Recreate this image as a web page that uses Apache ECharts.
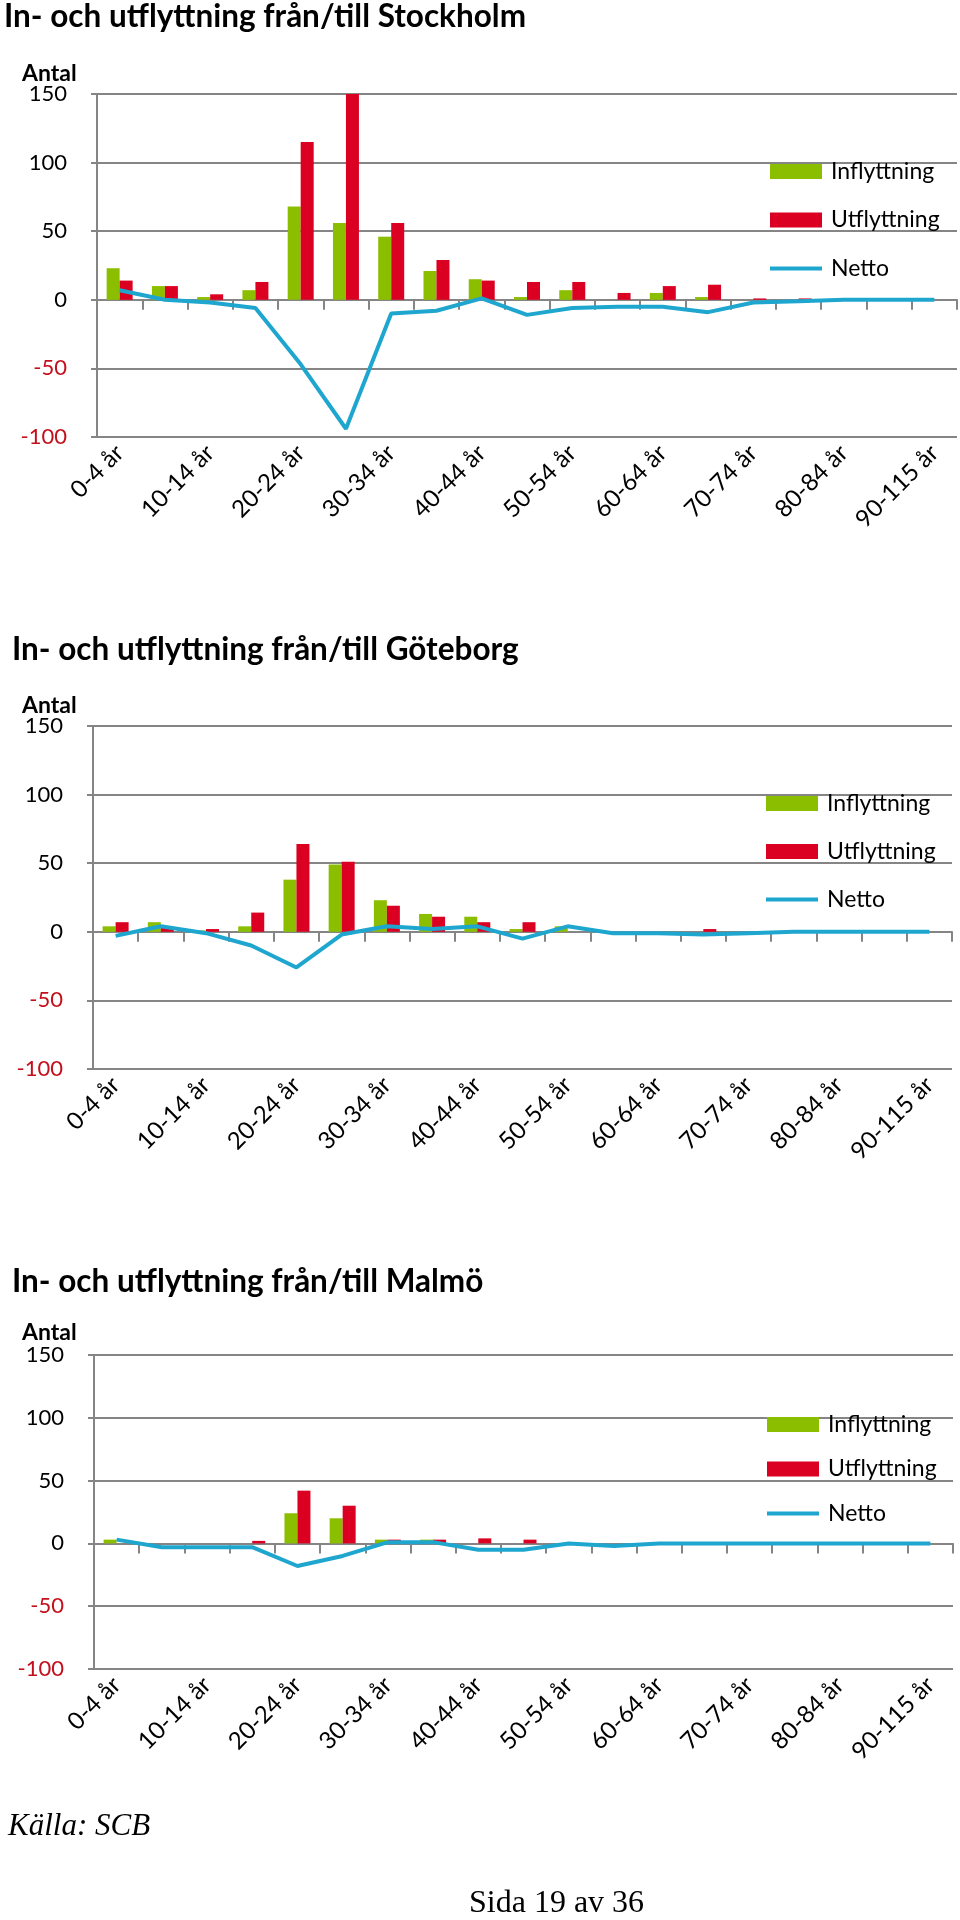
<!DOCTYPE html>
<html>
<head>
<meta charset="utf-8">
<script src="https://cdn.jsdelivr.net/npm/echarts@6/dist/echarts.min.js"></script>
<style>
  html, body { margin: 0; padding: 0; background: #ffffff; }
  #chart { width: 960px; height: 1920px; }
</style>
</head>
<body>
<div id="chart"></div>
<script>
// ---------- DATA ----------
const categories = ['0-4 år','5-9 år','10-14 år','15-19 år','20-24 år','25-29 år','30-34 år','35-39 år','40-44 år','45-49 år','50-54 år','55-59 år','60-64 år','65-69 år','70-74 år','75-79 år','80-84 år','85-89 år','90-115 år'];
const seriesNames = ['Inflyttning', 'Utflyttning', 'Netto'];
const yTicks = [-100, -50, 0, 50, 100, 150];

const titles = ['In- och utflyttning från/till Stockholm', 'In- och utflyttning från/till Göteborg', 'In- och utflyttning från/till Malmö'];
const yAxisTitle = 'Antal';

const stockholmIn    = [23, 10, 2, 7, 68, 56, 46, 21, 15, 2, 7, 0, 5, 2, 0, 0, 0, 0, 0];
const stockholmUt    = [14, 10, 4, 13, 115, 150, 56, 29, 14, 13, 13, 5, 10, 11, 1, 1, 0, 0, 0];
const stockholmNetto = [7, 0, -2, -6, -47, -94, -10, -8, 1, -11, -6, -5, -5, -9, -2, -1, 0, 0, 0];

const goteborgIn     = [4, 7, 1, 4, 38, 49, 23, 13, 11, 2, 4, 0, 0, 0, 0, 0, 0, 0, 0];
const goteborgUt     = [7, 3, 2, 14, 64, 51, 19, 11, 7, 7, 0, 0, 0, 2, 0, 0, 0, 0, 0];
const goteborgNetto  = [-3, 4, -1, -10, -26, -2, 4, 2, 4, -5, 4, -1, -1, -2, -1, 0, 0, 0, 0];

const malmoIn        = [3, 0, 0, 0, 24, 20, 3, 3, 0, 0, 0, 0, 0, 0, 0, 0, 0, 0, 0];
const malmoUt        = [0, 0, 0, 2, 42, 30, 3, 3, 4, 3, 0, 0, 0, 0, 0, 0, 0, 0, 0];
const malmoNetto     = [3, -3, -3, -3, -18, -10, 1, 1, -5, -5, 0, -2, 0, 0, 0, 0, 0, 0, 0];

const sourceText = 'Källa: SCB';
const pageText = 'Sida 19 av 36';

// ---------- LAYOUT / STYLE ----------
const FONT = 'Lato, "Open Sans", sans-serif';
const SERIF = '"Liberation Serif", "DejaVu Serif", serif';
const GREEN = '#8CBE00';
const RED = '#DB0022';
const BLUE = '#1EA6CF';
const GRAY = '#858585';
const NEG = '#C4101C';

const panels = [
  { title: titles[0], data: [stockholmIn, stockholmUt, stockholmNetto],
    grid: { left: 97, top: 94, width: 860, height: 343 },
    titleTop: 1, titleLeft: 4, antalY: 75,
    legend: { left: 768, top: 160, gap: 25.5 } },
  { title: titles[1], data: [goteborgIn, goteborgUt, goteborgNetto],
    grid: { left: 93, top: 726, width: 859, height: 343 },
    titleTop: 634, titleLeft: 12, antalY: 707,
    legend: { left: 764, top: 792, gap: 25 } },
  { title: titles[2], data: [malmoIn, malmoUt, malmoNetto],
    grid: { left: 94, top: 1355, width: 859, height: 314 },
    titleTop: 1266, titleLeft: 12, antalY: 1334,
    legend: { left: 765, top: 1413, gap: 21.5 } }
];

const option = {
  animation: false,
  backgroundColor: '#ffffff',
  title: [], grid: [], xAxis: [], yAxis: [], legend: [], series: [], graphic: []
};

panels.forEach((p, i) => {
  const yMin = yTicks[0], yMax = yTicks[yTicks.length - 1];
  const zeroToBottom = p.grid.height * (0 - yMin) / (yMax - yMin);
  option.title.push({
    text: p.title, left: p.titleLeft, top: p.titleTop, padding: 0,
    textStyle: { fontFamily: FONT, fontWeight: 'bold', fontSize: 31.5, color: '#000' }
  });
  option.grid.push(Object.assign({ containLabel: false, outerBoundsMode: 'none' }, p.grid));
  // category axis sitting on the zero line; labels pushed down below the plot
  option.xAxis.push({
    type: 'category', gridIndex: i, data: categories, position: 'bottom', offset: -zeroToBottom,
    axisLine: { show: true, onZero: false, lineStyle: { color: GRAY, width: 2 } },
    axisTick: { show: true, interval: 0, length: 10, alignWithLabel: false, lineStyle: { color: GRAY, width: 2 } },
    axisLabel: { interval: 1, rotate: 45, margin: zeroToBottom + 12, fontFamily: FONT, fontSize: 24, color: '#000' },
    splitLine: { show: false }
  });
  option.yAxis.push({
    type: 'value', gridIndex: i, min: yMin, max: yMax, interval: 50,
    axisLine: { show: true, lineStyle: { color: GRAY, width: 2 } },
    axisTick: { show: true, length: 6, lineStyle: { color: GRAY, width: 2 } },
    splitLine: { show: true, lineStyle: { color: GRAY, width: 2 } },
    axisLabel: {
      margin: 30, fontFamily: FONT, fontSize: 22,
      color: v => (Number(v) < 0 ? NEG : '#000')
    }
  });
  option.legend.push({
    orient: 'vertical', left: p.legend.left, top: p.legend.top, padding: 0,
    itemWidth: 52, itemHeight: 15, itemGap: p.legend.gap,
    selectedMode: false,
    lineStyle: { width: 4 },
    textStyle: { fontFamily: FONT, fontSize: 23, lineHeight: 22, color: '#000', padding: [0, 0, 0, 4] },
    data: [
      { name: seriesNames[0], icon: 'rect' },
      { name: seriesNames[1], icon: 'rect' },
      { name: seriesNames[2], itemStyle: { color: 'rgba(0,0,0,0)', borderColor: 'rgba(0,0,0,0)', borderWidth: 0 }, lineStyle: { width: 4, color: BLUE } }
    ]
  });
  option.series.push({
    name: seriesNames[0], type: 'bar', xAxisIndex: i, yAxisIndex: i,
    data: p.data[0], barWidth: 13, barGap: '0%', itemStyle: { color: GREEN }, z: 2
  });
  option.series.push({
    name: seriesNames[1], type: 'bar', xAxisIndex: i, yAxisIndex: i,
    data: p.data[1], barWidth: 13, barGap: '0%', itemStyle: { color: RED }, z: 2
  });
  option.series.push({
    name: seriesNames[2], type: 'line', xAxisIndex: i, yAxisIndex: i,
    data: p.data[2], symbol: 'none', showSymbol: false,
    lineStyle: { color: BLUE, width: 4 }, itemStyle: { color: BLUE }, z: 5
  });
  option.graphic.push({
    type: 'text', left: 22, top: p.antalY - 13,
    style: { text: yAxisTitle, fontFamily: FONT, fontWeight: 'bold', fontSize: 23, fill: '#000' }
  });
});

option.graphic.push({
  type: 'text', left: 8, top: 1811,
  style: { text: sourceText, fontFamily: SERIF, fontStyle: 'italic', fontSize: 31, fill: '#000' }
});
option.graphic.push({
  type: 'text', left: 469, top: 1888,
  style: { text: pageText, fontFamily: SERIF, fontSize: 32, fill: '#000' }
});

const chart = echarts.init(document.getElementById('chart'), null, { renderer: 'canvas', width: 960, height: 1920 });
chart.setOption(option);
</script>
</body>
</html>
